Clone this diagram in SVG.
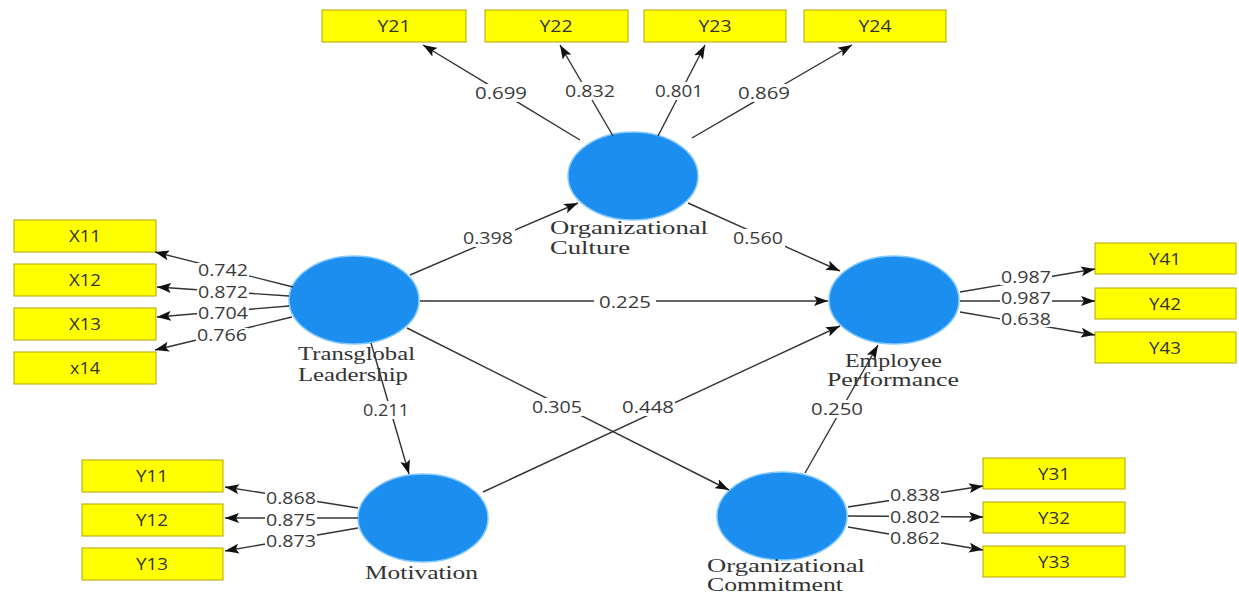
<svg xmlns="http://www.w3.org/2000/svg" width="1239" height="595" viewBox="0 0 1239 595">
<defs>
<marker id="ah" viewBox="0 0 14 10" refX="14" refY="5" markerWidth="14" markerHeight="10" markerUnits="userSpaceOnUse" orient="auto">
<path d="M0,0 L14,5 L0,10 L3,5 z" fill="#111"/>
</marker>
<style>
.ln{stroke:#333;stroke-width:1.4;fill:none;marker-end:url(#ah)}
.bg{fill:#fff}
.num{font-family:"Open Sans","DejaVu Sans",sans-serif;font-size:17px;fill:#3a3a3a;text-anchor:middle}
.sm{font-size:15.5px}
.box{fill:#ffff00;stroke:#b3a600;stroke-width:1}
.bt{font-family:"Open Sans","DejaVu Sans",sans-serif;font-size:16px;fill:#333;text-anchor:middle}
.lv{fill:#1b8ef0;stroke:#86cafc;stroke-width:1.5}
.nt{font-family:"Liberation Serif","DejaVu Serif",serif;font-size:18px;fill:#333}
</style>
</defs>
<rect width="1239" height="595" fill="#fff"/>

<g id="Y21"><rect class="box" x="322" y="10" width="144" height="32"/><text class="bt" x="394" y="32" textLength="33" lengthAdjust="spacingAndGlyphs">Y21</text></g>
<g id="Y22"><rect class="box" x="485" y="10" width="143" height="32"/><text class="bt" x="556" y="32" textLength="33" lengthAdjust="spacingAndGlyphs">Y22</text></g>
<g id="Y23"><rect class="box" x="644" y="10" width="142" height="32"/><text class="bt" x="715" y="32" textLength="33" lengthAdjust="spacingAndGlyphs">Y23</text></g>
<g id="Y24"><rect class="box" x="804" y="10" width="142" height="32"/><text class="bt" x="875" y="32" textLength="33" lengthAdjust="spacingAndGlyphs">Y24</text></g>

<g id="X11"><rect class="box" x="14" y="220" width="142" height="32"/><text class="bt" x="85" y="242" textLength="32" lengthAdjust="spacingAndGlyphs">X11</text></g>
<g id="X12"><rect class="box" x="14" y="264" width="142" height="32"/><text class="bt" x="85" y="286" textLength="32" lengthAdjust="spacingAndGlyphs">X12</text></g>
<g id="X13"><rect class="box" x="14" y="308" width="142" height="32"/><text class="bt" x="85" y="330" textLength="32" lengthAdjust="spacingAndGlyphs">X13</text></g>
<g id="x14"><rect class="box" x="14" y="352" width="142" height="32"/><text class="bt" x="85" y="374" textLength="30" lengthAdjust="spacingAndGlyphs">x14</text></g>

<g id="Y41"><rect class="box" x="1095" y="243" width="141" height="31"/><text class="bt" x="1165" y="265" textLength="32" lengthAdjust="spacingAndGlyphs">Y41</text></g>
<g id="Y42"><rect class="box" x="1095" y="288" width="141" height="31"/><text class="bt" x="1165" y="310" textLength="32" lengthAdjust="spacingAndGlyphs">Y42</text></g>
<g id="Y43"><rect class="box" x="1095" y="332" width="141" height="31"/><text class="bt" x="1165" y="354" textLength="32" lengthAdjust="spacingAndGlyphs">Y43</text></g>

<g id="Y11"><rect class="box" x="82" y="460" width="141" height="32"/><text class="bt" x="152" y="482" textLength="32" lengthAdjust="spacingAndGlyphs">Y11</text></g>
<g id="Y12"><rect class="box" x="82" y="504" width="141" height="32"/><text class="bt" x="152" y="526" textLength="32" lengthAdjust="spacingAndGlyphs">Y12</text></g>
<g id="Y13"><rect class="box" x="82" y="548" width="141" height="32"/><text class="bt" x="152" y="570" textLength="32" lengthAdjust="spacingAndGlyphs">Y13</text></g>

<g id="Y31"><rect class="box" x="983" y="458" width="142" height="31"/><text class="bt" x="1054" y="480" textLength="32" lengthAdjust="spacingAndGlyphs">Y31</text></g>
<g id="Y32"><rect class="box" x="983" y="502" width="142" height="31"/><text class="bt" x="1054" y="524" textLength="32" lengthAdjust="spacingAndGlyphs">Y32</text></g>
<g id="Y33"><rect class="box" x="983" y="546" width="142" height="31"/><text class="bt" x="1054" y="568" textLength="32" lengthAdjust="spacingAndGlyphs">Y33</text></g>

<g id="OrganizationalCulture"><ellipse class="lv" cx="633" cy="176" rx="65" ry="44"/>
<text class="nt" x="550" y="234" textLength="158" lengthAdjust="spacingAndGlyphs">Organizational</text>
<text class="nt" x="550" y="254" textLength="80" lengthAdjust="spacingAndGlyphs">Culture</text></g>

<g id="TransglobalLeadership"><ellipse class="lv" cx="354" cy="300" rx="65" ry="44"/>
<text class="nt" x="298" y="360" textLength="117" lengthAdjust="spacingAndGlyphs">Transglobal</text>
<text class="nt" x="298" y="381" textLength="110" lengthAdjust="spacingAndGlyphs">Leadership</text></g>

<g id="EmployeePerformance"><ellipse class="lv" cx="894" cy="300" rx="65" ry="44"/>
<text class="nt" x="845" y="367" textLength="97" lengthAdjust="spacingAndGlyphs">Employee</text>
<text class="nt" x="827" y="386" textLength="132" lengthAdjust="spacingAndGlyphs">Performance</text></g>

<g id="Motivation"><ellipse class="lv" cx="423" cy="518" rx="65" ry="44"/>
<text class="nt" x="365" y="579" textLength="113" lengthAdjust="spacingAndGlyphs">Motivation</text></g>

<g id="OrganizationalCommitment"><ellipse class="lv" cx="782" cy="516" rx="65" ry="44"/>
<text class="nt" x="707" y="572" textLength="158" lengthAdjust="spacingAndGlyphs">Organizational</text>
<text class="nt" x="707" y="591" textLength="136" lengthAdjust="spacingAndGlyphs">Commitment</text></g>

<g id="connectors">
<line class="ln" x1="580" y1="140" x2="423" y2="45"/>
<line class="ln" x1="613" y1="136" x2="560" y2="45"/>
<line class="ln" x1="658" y1="136" x2="705" y2="45"/>
<line class="ln" x1="692" y1="138" x2="852" y2="45"/>
<line class="ln" x1="293" y1="287" x2="155" y2="252"/>
<line class="ln" x1="289" y1="296" x2="157" y2="287"/>
<line class="ln" x1="289" y1="306" x2="157" y2="317"/>
<line class="ln" x1="292" y1="317" x2="155" y2="350"/>
<line class="ln" x1="410" y1="275" x2="578" y2="203"/>
<line class="ln" x1="688" y1="203" x2="840" y2="271"/>
<line class="ln" x1="420" y1="301" x2="828" y2="301"/>
<line class="ln" x1="407" y1="328" x2="729" y2="490"/>
<line class="ln" x1="483" y1="492" x2="840" y2="326"/>
<line class="ln" x1="805" y1="473" x2="878" y2="345"/>
<line class="ln" x1="371" y1="343" x2="409" y2="474"/>
<line class="ln" x1="358" y1="508" x2="225" y2="487"/>
<line class="ln" x1="358" y1="518" x2="225" y2="518"/>
<line class="ln" x1="358" y1="528" x2="225" y2="551"/>
<line class="ln" x1="960" y1="292" x2="1095" y2="269"/>
<line class="ln" x1="960" y1="301" x2="1095" y2="301"/>
<line class="ln" x1="960" y1="312" x2="1095" y2="335"/>
<line class="ln" x1="848" y1="507" x2="983" y2="486"/>
<line class="ln" x1="848" y1="516" x2="983" y2="517"/>
<line class="ln" x1="848" y1="527" x2="983" y2="550"/>

<g id="edge-labels">
<rect class="bg" x="474" y="84" width="54" height="18"/><text class="num" x="501" y="99" textLength="52" lengthAdjust="spacingAndGlyphs">0.699</text>
<rect class="bg" x="563" y="82" width="54" height="18"/><text class="num" x="590" y="97" textLength="50" lengthAdjust="spacingAndGlyphs">0.832</text>
<rect class="bg" x="652" y="82" width="54" height="18"/><text class="num" x="679" y="97" textLength="48" lengthAdjust="spacingAndGlyphs">0.801</text>
<rect class="bg" x="737" y="84" width="54" height="18"/><text class="num" x="764" y="99" textLength="52" lengthAdjust="spacingAndGlyphs">0.869</text>

<rect class="bg" x="197" y="263" width="52" height="15"/><text class="num sm" x="223" y="275.5" textLength="50" lengthAdjust="spacingAndGlyphs">0.742</text>
<rect class="bg" x="197" y="285" width="52" height="15"/><text class="num sm" x="223" y="297.5" textLength="50" lengthAdjust="spacingAndGlyphs">0.872</text>
<rect class="bg" x="197" y="306" width="52" height="15"/><text class="num sm" x="223" y="318.5" textLength="50" lengthAdjust="spacingAndGlyphs">0.704</text>
<rect class="bg" x="196" y="328" width="52" height="15"/><text class="num sm" x="222" y="340.5" textLength="50" lengthAdjust="spacingAndGlyphs">0.766</text>

<rect class="bg" x="461" y="229" width="54" height="18"/><text class="num" x="488" y="244" textLength="50" lengthAdjust="spacingAndGlyphs">0.398</text>
<rect class="bg" x="731" y="229" width="54" height="18"/><text class="num" x="758" y="244" textLength="50" lengthAdjust="spacingAndGlyphs">0.560</text>
<rect class="bg" x="594" y="293" width="62" height="18"/><text class="num" x="625" y="308" textLength="52" lengthAdjust="spacingAndGlyphs">0.225</text>
<rect class="bg" x="530" y="398" width="54" height="18"/><text class="num" x="557" y="413" textLength="50" lengthAdjust="spacingAndGlyphs">0.305</text>
<rect class="bg" x="621" y="398" width="54" height="18"/><text class="num" x="648" y="413" textLength="52" lengthAdjust="spacingAndGlyphs">0.448</text>
<rect class="bg" x="810" y="400" width="54" height="18"/><text class="num" x="837" y="415" textLength="52" lengthAdjust="spacingAndGlyphs">0.250</text>
<rect class="bg" x="360" y="401" width="52" height="18"/><text class="num" x="386" y="416" textLength="46" lengthAdjust="spacingAndGlyphs">0.211</text>

<rect class="bg" x="265" y="491" width="52" height="15"/><text class="num sm" x="291" y="503.5" textLength="50" lengthAdjust="spacingAndGlyphs">0.868</text>
<rect class="bg" x="265" y="513" width="52" height="15"/><text class="num sm" x="291" y="525.5" textLength="50" lengthAdjust="spacingAndGlyphs">0.875</text>
<rect class="bg" x="265" y="534" width="52" height="15"/><text class="num sm" x="291" y="546.5" textLength="50" lengthAdjust="spacingAndGlyphs">0.873</text>

<rect class="bg" x="1000" y="270" width="52" height="15"/><text class="num sm" x="1026" y="282.5" textLength="50" lengthAdjust="spacingAndGlyphs">0.987</text>
<rect class="bg" x="1000" y="291" width="52" height="15"/><text class="num sm" x="1026" y="303.5" textLength="50" lengthAdjust="spacingAndGlyphs">0.987</text>
<rect class="bg" x="1000" y="312" width="52" height="15"/><text class="num sm" x="1026" y="324.5" textLength="50" lengthAdjust="spacingAndGlyphs">0.638</text>

<rect class="bg" x="889" y="488" width="52" height="15"/><text class="num sm" x="915" y="500.5" textLength="50" lengthAdjust="spacingAndGlyphs">0.838</text>
<rect class="bg" x="889" y="510" width="52" height="15"/><text class="num sm" x="915" y="522.5" textLength="50" lengthAdjust="spacingAndGlyphs">0.802</text>
<rect class="bg" x="889" y="531" width="52" height="15"/><text class="num sm" x="915" y="543.5" textLength="50" lengthAdjust="spacingAndGlyphs">0.862</text>
</g>
</g>
</svg>
